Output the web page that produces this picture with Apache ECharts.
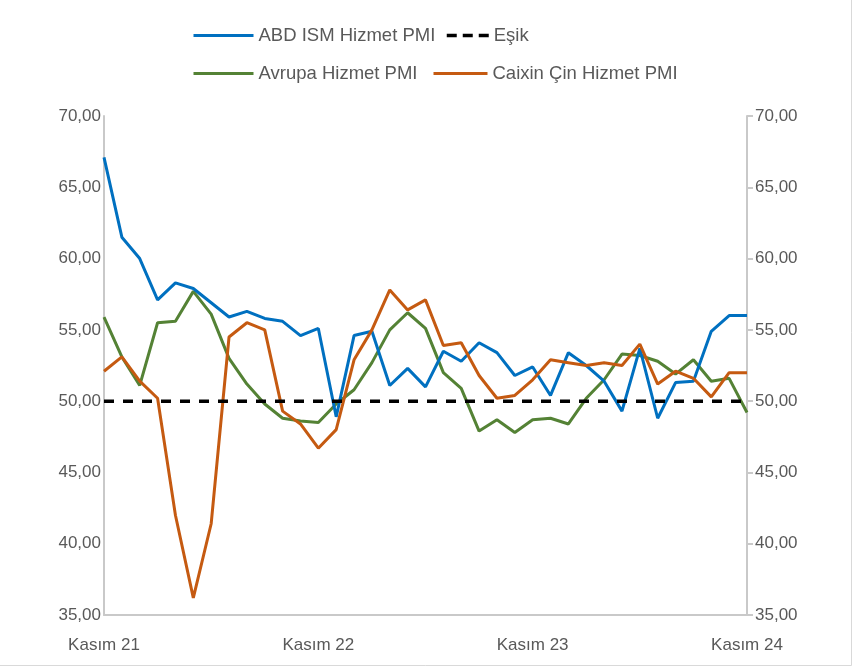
<!DOCTYPE html>
<html>
<head>
<meta charset="utf-8">
<script src="https://cdn.jsdelivr.net/npm/echarts@6/dist/echarts.min.js"></script>
<style>
  html, body { margin: 0; padding: 0; background: #ffffff; }
  #chart { width: 854px; height: 667px; }
</style>
</head>
<body>
<div id="chart"></div>
<script>
// Months Kasım 21 .. Kasım 24
const categories = [
  "Kasım 21","Aralık 21","Ocak 22","Şubat 22","Mart 22","Nisan 22","Mayıs 22","Haziran 22","Temmuz 22","Ağustos 22","Eylül 22","Ekim 22",
  "Kasım 22","Aralık 22","Ocak 23","Şubat 23","Mart 23","Nisan 23","Mayıs 23","Haziran 23","Temmuz 23","Ağustos 23","Eylül 23","Ekim 23",
  "Kasım 23","Aralık 23","Ocak 24","Şubat 24","Mart 24","Nisan 24","Mayıs 24","Haziran 24","Temmuz 24","Ağustos 24","Eylül 24","Ekim 24",
  "Kasım 24"
];

const abdIsm = [67.1, 61.5, 60.0, 57.1, 58.3, 57.9, 56.9, 55.9, 56.3, 55.8, 55.6, 54.6,
                55.1, 48.9, 54.6, 54.9, 51.1, 52.3, 51.0, 53.5, 52.8, 54.1, 53.4, 51.8,
                52.4, 50.4, 53.4, 52.5, 51.4, 49.3, 53.7, 48.8, 51.3, 51.4, 54.9, 56.0,
                56.0];

const avrupa = [55.9, 53.1, 51.1, 55.5, 55.6, 57.7, 56.1, 53.0, 51.2, 49.8, 48.8, 48.6,
                48.5, 49.8, 50.8, 52.7, 55.0, 56.2, 55.1, 52.0, 50.9, 47.9, 48.7, 47.8,
                48.7, 48.8, 48.4, 50.2, 51.5, 53.3, 53.2, 52.8, 51.9, 52.9, 51.4, 51.6,
                49.2];

const caixin = [52.1, 53.1, 51.4, 50.2, 42.0, 36.2, 41.4, 54.5, 55.5, 55.0, 49.3, 48.4,
                46.7, 48.0, 52.9, 55.0, 57.8, 56.4, 57.1, 53.9, 54.1, 51.8, 50.2, 50.4,
                51.5, 52.9, 52.7, 52.5, 52.7, 52.5, 54.0, 51.2, 52.1, 51.6, 50.3, 52.0,
                52.0];

const esikValue = 50;
const esik = categories.map(() => esikValue);

const yMin = 35, yMax = 70, yStep = 5;

const FONT = "'Liberation Sans', Arial, sans-serif";
const TXT = '#595959';
const AXIS = '#c9c9c9';

const fmt = v => v.toFixed(2).replace('.', ',');

function legendAt(name, left, top, w, extra) {
  return Object.assign({
    data: [name], left: left, top: top, orient: 'horizontal',
    itemWidth: w, itemHeight: 14, itemGap: 7, padding: 0,
    itemStyle: { opacity: 0 },
    lineStyle: { width: 3 },
    textStyle: { fontFamily: FONT, fontSize: 18.5, color: TXT, padding: [0, 0, 0, 0] },
    selectedMode: false
  }, extra || {});
}

const chart = echarts.init(document.getElementById('chart'), null, { renderer: 'canvas' });

chart.setOption({
  animation: false,
  backgroundColor: '#ffffff',
  textStyle: { fontFamily: FONT },
  graphic: [
    { type: 'line', shape: { x1: 851.5, y1: 0, x2: 851.5, y2: 665.5 }, style: { stroke: '#d9d9d9', lineWidth: 1 }, silent: true },
    { type: 'line', shape: { x1: 0, y1: 665.5, x2: 851.5, y2: 665.5 }, style: { stroke: '#d9d9d9', lineWidth: 1 }, silent: true }
  ],
  legend: [
    legendAt('ABD ISM Hizmet PMI', 192, 26, 60),
    legendAt('Eşik', 445, 26, 42, { lineStyle: { type: [10, 6], width: 3.5 } }),
    legendAt('Avrupa Hizmet PMI', 192, 64, 60),
    legendAt('Caixin Çin Hizmet PMI', 432, 64, 54)
  ],
  grid: { left: 104, right: 107, top: 116, bottom: 52, containLabel: false },
  xAxis: {
    type: 'category',
    data: categories,
    boundaryGap: false,
    axisLine: { show: true, lineStyle: { color: AXIS, width: 2 } },
    axisTick: { show: false },
    axisLabel: {
      interval: 11, margin: 22, fontFamily: FONT, fontSize: 17, color: TXT,
      showMinLabel: true, showMaxLabel: true
    },
    splitLine: { show: false }
  },
  yAxis: [
    {
      type: 'value', min: yMin, max: yMax, interval: yStep, position: 'left',
      axisLine: { show: true, lineStyle: { color: AXIS, width: 2 } },
      axisTick: { show: false },
      axisLabel: { formatter: fmt, margin: 3, fontFamily: FONT, fontSize: 17, color: TXT },
      splitLine: { show: false }
    },
    {
      type: 'value', min: yMin, max: yMax, interval: yStep, position: 'right',
      axisLine: { show: true, lineStyle: { color: AXIS, width: 2 } },
      axisTick: { show: true, inside: false, length: 6, lineStyle: { color: AXIS, width: 2 } },
      axisLabel: { formatter: fmt, margin: 8, fontFamily: FONT, fontSize: 17, color: TXT },
      splitLine: { show: false }
    }
  ],
  series: [
    {
      name: 'ABD ISM Hizmet PMI', type: 'line', data: abdIsm, yAxisIndex: 0,
      symbol: 'none', color: '#0070C0',
      lineStyle: { color: '#0070C0', width: 3 }, z: 3
    },
    {
      name: 'Eşik', type: 'line', data: esik, yAxisIndex: 0,
      symbol: 'none', color: '#000000',
      lineStyle: { color: '#000000', width: 3.5, type: [10, 9] }, z: 5
    },
    {
      name: 'Avrupa Hizmet PMI', type: 'line', data: avrupa, yAxisIndex: 0,
      symbol: 'none', color: '#548235',
      lineStyle: { color: '#548235', width: 3 }, z: 2
    },
    {
      name: 'Caixin Çin Hizmet PMI', type: 'line', data: caixin, yAxisIndex: 0,
      symbol: 'none', color: '#C55A11',
      lineStyle: { color: '#C55A11', width: 3 }, z: 4
    }
  ]
});
</script>
</body>
</html>
